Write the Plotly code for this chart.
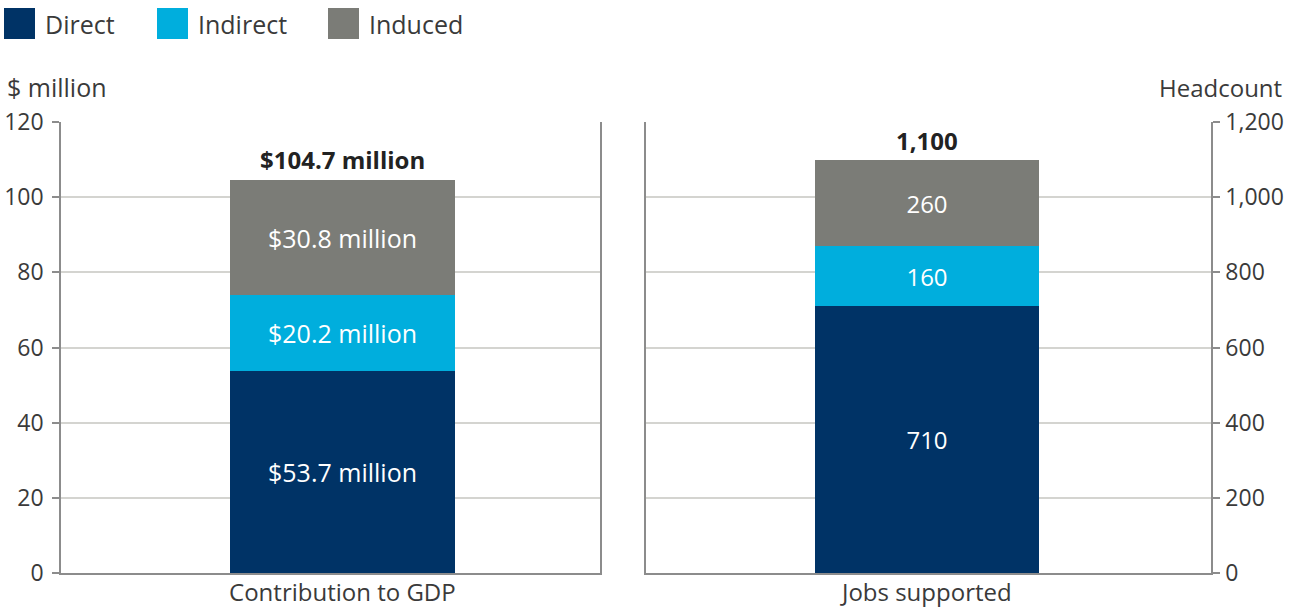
import plotly.graph_objects as go

# ---- data ----
series = ["Direct", "Indirect", "Induced"]
colors = ["#003366", "#00AEDD", "#7B7C77"]
gdp_category = ["Contribution to GDP"]
gdp_values = [53.7, 20.2, 30.8]          # $ million
jobs_category = ["Jobs supported"]
jobs_values = [710, 160, 230]            # headcount (bar heights)
jobs_labels = ["710", "160", "260"]      # printed segment labels
gdp_ticks = [0, 20, 40, 60, 80, 100, 120]
jobs_ticks = [0, 200, 400, 600, 800, 1000, 1200]

FONT = "Open Sans"
TXT = "#3a3a3a"
GRID = "#d4d4d0"
LINE = "#8c8c8c"
W, H = 1303, 610

fig = go.Figure()

for i, name in enumerate(series):
    fig.add_trace(go.Bar(
        x=gdp_category, y=[gdp_values[i]], name=name,
        marker=dict(color=colors[i], line=dict(width=0)),
        text=[f"${gdp_values[i]:.1f} million"], textposition="inside",
        insidetextanchor="middle", textangle=0,
        textfont=dict(color="white", size=25, family=FONT),
        width=0.417, xaxis="x", yaxis="y", showlegend=False,
        hoverinfo="skip"))
    fig.add_trace(go.Bar(
        x=jobs_category, y=[jobs_values[i]], name=name,
        marker=dict(color=colors[i], line=dict(width=0)),
        text=[jobs_labels[i]], textposition="inside",
        insidetextanchor="middle", textangle=0,
        textfont=dict(color="white", size=24, family=FONT),
        width=0.396, xaxis="x2", yaxis="y2", showlegend=False,
        hoverinfo="skip"))

gdp_total = sum(gdp_values)
jobs_total = sum(jobs_values)

annotations = [
    dict(x=gdp_category[0], y=gdp_total, xref="x", yref="y",
         text=f"<b>${gdp_total:.1f} million</b>", showarrow=False,
         yanchor="bottom", yshift=1, font=dict(size=24, color="#222", family=FONT)),
    dict(x=jobs_category[0], y=jobs_total, xref="x2", yref="y2",
         text=f"<b>{jobs_total:,.0f}</b>", showarrow=False,
         yanchor="bottom", yshift=1, font=dict(size=24, color="#222", family=FONT)),
    dict(x=5 / W, y=1 - 87 / H, xref="paper", yref="paper", text="$ million",
         showarrow=False, xanchor="left", yanchor="middle",
         font=dict(size=25, color=TXT, family=FONT)),
    dict(x=1284 / W, y=1 - 87 / H, xref="paper", yref="paper", text="Headcount",
         showarrow=False, xanchor="right", yanchor="middle",
         font=dict(size=24, color=TXT, family=FONT)),
]

# legend (custom, larger swatches)
shapes = []
legend_x = [4, 157, 328]
for i, name in enumerate(series):
    x0 = legend_x[i]
    shapes.append(dict(type="rect", xref="paper", yref="paper",
                       x0=x0 / W, x1=(x0 + 31) / W,
                       y0=1 - 39 / H, y1=1 - 8 / H,
                       fillcolor=colors[i], line=dict(width=0)))
    annotations.append(dict(x=(x0 + 39) / W, y=1 - 24 / H, xref="paper", yref="paper",
                            text=name, showarrow=False, xanchor="left", yanchor="middle",
                            font=dict(size=25, color=TXT, family=FONT)))

ydom = [1 - 573 / H, 1 - 122 / H]
axis_font = dict(size=23, color=TXT, family=FONT)
cat_font = dict(size=24, color=TXT, family=FONT)

fig.update_layout(
    width=W, height=H,
    margin=dict(l=0, r=0, t=0, b=0, pad=0, autoexpand=False),
    paper_bgcolor="white", plot_bgcolor="white",
    barmode="stack", bargap=0, showlegend=False,
    font=dict(family=FONT, color=TXT),
    xaxis=dict(domain=[61 / W, 600 / W], range=[-0.522, 0.478], automargin=False,
               showline=True, linecolor=LINE, linewidth=1.5, showgrid=False,
               ticks="", tickfont=cat_font, ticklabelstandoff=-3),
    yaxis=dict(domain=ydom, range=[0, 120], tickvals=gdp_ticks, automargin=False,
               showline=True, mirror=True, linecolor=LINE, linewidth=1.5,
               showgrid=True, gridcolor=GRID, gridwidth=1.5, zeroline=False,
               ticks="outside", ticklen=7, tickcolor=LINE, tickwidth=1.5,
               tickfont=axis_font, ticklabelstandoff=4),
    xaxis2=dict(domain=[646 / W, 1211 / W], range=[-0.497, 0.503], anchor="y2",
                automargin=False,
                showline=True, linecolor=LINE, linewidth=1.5, showgrid=False,
                ticks="", tickfont=cat_font, ticklabelstandoff=-3),
    yaxis2=dict(domain=ydom, range=[0, 1200], tickvals=jobs_ticks, anchor="x2",
                side="right", tickformat=",", automargin=False,
                showline=True, mirror=True, linecolor=LINE, linewidth=1.5,
                showgrid=True, gridcolor=GRID, gridwidth=1.5, zeroline=False,
                ticks="outside", ticklen=7, tickcolor=LINE, tickwidth=1.5,
                tickfont=axis_font, ticklabelstandoff=1),
    annotations=annotations,
    shapes=shapes,
)

fig.write_html("out.html")
